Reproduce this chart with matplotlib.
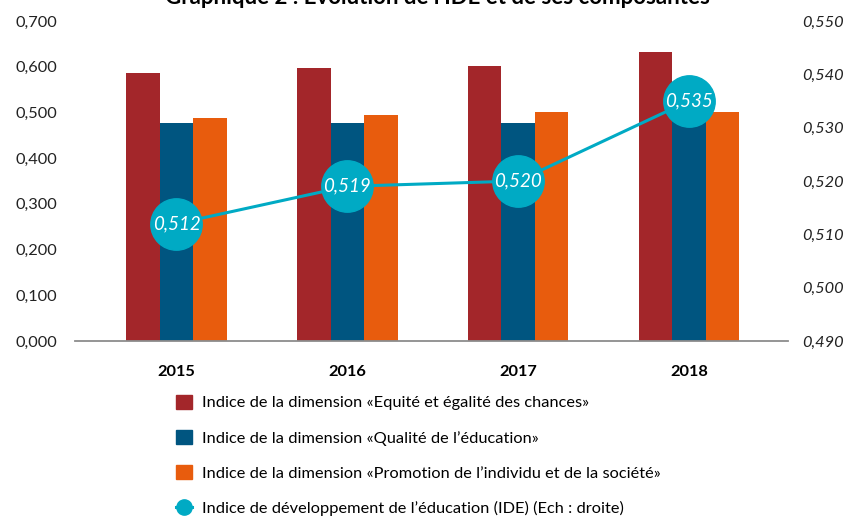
import numpy as np
import matplotlib
matplotlib.use("Agg")
import matplotlib.pyplot as plt
from matplotlib.patches import Patch
from matplotlib.lines import Line2D

plt.rcParams['font.family'] = ['Lato', 'DejaVu Sans']

# donnees
annees = ['2015', '2016', '2017', '2018']
equite = [0.586, 0.597, 0.602, 0.632]
qualite = [0.477, 0.477, 0.477, 0.505]
promotion = [0.488, 0.495, 0.501, 0.501]
ide = [0.512, 0.519, 0.520, 0.535]

noms = ['Indice de la dimension «Equité et égalité des chances»',
        'Indice de la dimension «Qualité de l\u2019éducation»',
        'Indice de la dimension «Promotion de l\u2019individu et de la société»',
        'Indice de développement de l\u2019éducation (IDE) (Ech : droite)']

rouge = '#A3262A'
bleu = '#005580'
orange = '#E85C0D'
turquoise = '#00AAC4'

W, H = 849, 519
fig = plt.figure(figsize=(W / 100, H / 100), dpi=100)
ax = fig.add_axes([75 / W, 1 - 341 / H, (788 - 75) / W, (341 - 21) / H])

x = np.arange(len(annees))
lb = 0.196
ax.bar(x - lb, equite, lb, color=rouge)
ax.bar(x, qualite, lb, color=bleu)
ax.bar(x + lb, promotion, lb, color=orange)

ax.set_xlim(-0.594, 3.58)
ax.set_ylim(0, 0.7)
yt = np.arange(0, 0.71, 0.1)
ax.set_yticks(yt)
ax.set_yticklabels([('%.3f' % v).replace('.', ',') for v in yt], fontsize=11.8, color='#222222')
ax.set_xticks(x)
ax.set_xticklabels(annees, fontsize=11.8, fontweight='bold')
ax.tick_params(axis='y', length=0, pad=13)
ax.tick_params(axis='x', length=0, pad=17)
for s in ['top', 'left', 'right']:
    ax.spines[s].set_visible(False)
ax.spines['bottom'].set_color('#8c8c8c')
ax.spines['bottom'].set_linewidth(1.3)

ax2 = ax.twinx()
ax2.plot(x, ide, color=turquoise, lw=2.2, marker='o', markersize=37, zorder=3)
for i, v in enumerate(ide):
    ax2.text(x[i], v, ('%.3f' % v).replace('.', ','), color='white', fontsize=13.5,
             style='italic', ha='center', va='center', zorder=4)
ax2.set_ylim(0.49, 0.55)
yt2 = np.arange(0.49, 0.5501, 0.01)
ax2.set_yticks(yt2)
ax2.set_yticklabels([('%.3f' % v).replace('.', ',') for v in yt2], fontsize=11.8,
                    style='italic', color='#222222')
ax2.tick_params(axis='y', length=0, pad=10)
for s in ['top', 'left', 'right', 'bottom']:
    ax2.spines[s].set_visible(False)

fig.text(0.515, 1 - 4 / H, 'Graphique 2 : Evolution de l\u2019IDE et de ses composantes',
         ha='center', va='baseline', fontsize=16, fontweight='bold')

poignees = [Patch(color=rouge), Patch(color=bleu), Patch(color=orange),
            Line2D([], [], color=turquoise, lw=2.2, marker='o', markersize=11)]
fig.legend(poignees, noms, loc='upper left', bbox_to_anchor=(176 / W, 1 - 395 / H),
           frameon=False, fontsize=11.8, handlelength=0.95, handleheight=0.9,
           handletextpad=0.65, labelspacing=1.2, borderpad=0, borderaxespad=0)

fig.savefig('out.png', dpi=100)
